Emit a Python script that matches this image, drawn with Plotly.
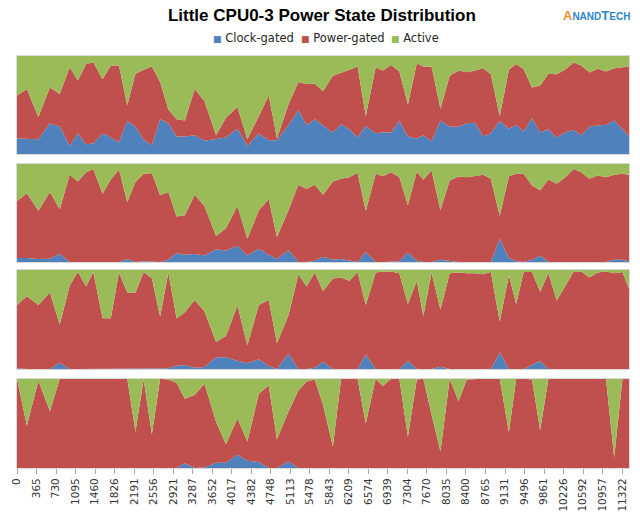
import plotly.graph_objects as go

# ---------------- data ----------------
TIMES = [0, 185, 400, 616, 800, 985, 1139, 1293, 1428, 1601, 1755, 1908, 2063, 2216, 2370,
         2524, 2678, 2832, 2986, 3140, 3325, 3509, 3725, 3909, 4125, 4310, 4525, 4710, 4864,
         5079, 5264, 5418, 5572, 5726, 5910, 6064, 6218, 6372, 6526, 6711, 6846, 7000, 7154,
         7314, 7480, 7603, 7757, 7923, 8096, 8262, 8416, 8570, 8724, 8866, 9032, 9204, 9340,
         9481, 9635, 9789, 9943, 10097, 10251, 10417, 10558, 10712, 10866, 11020, 11174,
         11328, 11451]

TICKS = [0, 365, 730, 1095, 1460, 1826, 2191, 2556, 2921, 3287, 3652, 4017, 4382, 4748,
         5113, 5478, 5843, 6209, 6574, 6939, 7304, 7670, 8035, 8400, 8765, 9131, 9496,
         9861, 10226, 10592, 10957, 11322]

SERIES = ["Clock-gated", "Power-gated", "Active"]

# CPU0
CLOCK_0 = [15.8, 15.8, 15.2, 31.3, 27.9, 8.4, 20.9, 10.1, 10.8, 20.9, 16.8, 11.8, 33.7, 27.9,
           14.5, 9.1, 35.4, 31.3, 17.8, 17.8, 19.2, 13.5, 15.2, 16.8, 25.9, 8.4, 20.9, 14.1,
           14.1, 29.3, 44.8, 29.3, 35.4, 29.3, 21.9, 30.3, 25.3, 16.8, 28.6, 21.2, 21.9, 21.9,
           33.7, 17.8, 15.8, 19.2, 13.1, 34.3, 27.9, 27.9, 31.3, 32.0, 17.8, 21.2, 33.7, 25.9,
           29.6, 22.9, 36.4, 21.9, 25.3, 16.8, 21.9, 24.6, 19.2, 27.9, 29.3, 29.6, 34.3, 25.3,
           17.8]
POWER_0 = [43.8, 50.5, 22.5, 36.7, 33.4, 80.2, 54.2, 81.8, 82.8, 55.5, 73.4, 78.4, 16.1, 53.9,
           71.4, 80.1, 38.0, 14.2, 17.6, 16.5, 47.1, 40.4, 4.0, 20.2, 22.2, 6.8, 17.8, 45.5,
           2.1, 21.2, 28.6, 42.1, 36.3, 34.7, 57.9, 52.2, 60.6, 72.4, 10.1, 67.4, 63.3, 69.0,
           50.5, 32.7, 76.8, 70.0, 76.1, 11.8, 51.9, 57.3, 52.2, 53.2, 69.7, 60.3, 5.0, 60.0,
           62.3, 63.6, 31.6, 48.1, 56.5, 64.7, 64.0, 68.7, 71.0, 55.3, 57.6, 54.6, 53.2, 63.3,
           71.4]
ACTIVE_0 = [40.4, 33.7, 62.3, 32.0, 38.7, 11.4, 24.9, 8.1, 6.4, 23.6, 9.8, 9.8, 50.2, 18.2,
            14.1, 10.8, 26.6, 54.5, 64.6, 65.7, 33.7, 46.1, 80.8, 63.0, 51.9, 84.8, 61.3, 40.4,
            83.8, 49.5, 26.6, 28.6, 28.3, 36.0, 20.2, 17.5, 14.1, 10.8, 61.3, 11.4, 14.8, 9.1,
            15.8, 49.5, 7.4, 10.8, 10.8, 53.9, 20.2, 14.8, 16.5, 14.8, 12.5, 18.5, 61.3, 14.1,
            8.1, 13.5, 32.0, 30.0, 18.2, 18.5, 14.1, 6.7, 9.8, 16.8, 13.1, 15.8, 12.5, 11.4,
            10.8]

# CPU1
CLOCK_1 = [4.0, 4.0, 3.0, 3.4, 8.4, 0, 0, 0, 0, 0.7, 0, 0, 3.0, 0, 0.7, 0, 0, 2.4, 9.1, 7.4,
           8.1, 6.7, 13.1, 11.4, 16.5, 6.7, 13.5, 7.4, 3.0, 12.1, 0, 0, 1.3, 5.4, 2.4, 3.0,
           1.7, 0, 10.1, 0, 0, 0, 0.7, 9.8, 1.3, 0, 0, 2.4, 1.3, 0, 0, 0, 0, 0, 23.6, 4.0,
           0.7, 0, 2.4, 6.4, 0, 0, 0, 0.7, 0, 0, 0, 0, 2.4, 2.4, 0.7]
POWER_1 = [58.3, 66.0, 49.2, 68.0, 45.5, 88.9, 82.2, 91.6, 94.9, 69.0, 84.2, 94.3, 58.3, 81.5,
           89.2, 90.6, 68.0, 69.0, 37.4, 40.4, 60.6, 50.2, 13.5, 22.9, 40.7, 16.9, 39.4, 56.6,
           22.6, 40.8, 78.8, 74.7, 77.5, 63.3, 79.8, 81.8, 84.8, 90.9, 41.8, 89.9, 87.5, 91.6,
           85.8, 48.1, 91.0, 83.8, 93.3, 50.5, 81.9, 87.2, 86.5, 87.5, 88.9, 84.8, 23.5, 83.5,
           89.2, 89.9, 75.7, 66.7, 84.2, 79.8, 85.9, 94.2, 91.6, 84.8, 88.2, 86.5, 86.5, 87.5,
           88.2]
ACTIVE_1 = [37.7, 30.0, 47.8, 28.6, 46.1, 11.1, 17.8, 8.4, 5.1, 30.3, 15.8, 5.7, 38.7, 18.5,
            10.1, 9.4, 32.0, 28.6, 53.5, 52.2, 31.3, 43.1, 73.4, 65.7, 42.8, 76.4, 47.1, 36.0,
            74.4, 47.1, 21.2, 25.3, 21.2, 31.3, 17.8, 15.2, 13.5, 9.1, 48.1, 10.1, 12.5, 8.4,
            13.5, 42.1, 7.7, 16.2, 6.7, 47.1, 16.8, 12.8, 13.5, 12.5, 11.1, 15.2, 52.9, 12.5,
            10.1, 10.1, 21.9, 26.9, 15.8, 20.2, 14.1, 5.1, 8.4, 15.2, 11.8, 13.5, 11.1, 10.1,
            11.1]

# CPU2
CLOCK_2 = [0.7, 0, 0, 0, 6.3, 0, 0, 0, 0, 0, 0, 0, 0, 0, 0, 0.7, 0, 0.7, 3.3, 4.0, 1.3, 2.0,
           11.7, 11.7, 8.3, 5.7, 9.7, 3.0, 0, 15.7, 0, 0, 1.3, 7.3, 0, 0, 0, 0, 14.7, 0, 0, 0,
           0, 8.0, 0, 0, 0, 2.3, 0, 0, 0, 0, 0, 0, 16.7, 0, 0, 0, 4.0, 8.0, 0, 0, 0, 0, 0, 0,
           0, 0, 0, 0, 0]
POWER_2 = [64.0, 73.3, 64.7, 77.3, 38.7, 84.0, 98.0, 83.3, 98.0, 51.3, 51.3, 97.3, 77.3, 77.3,
           98.0, 91.0, 53.0, 96.6, 48.0, 53.3, 68.4, 56.0, 15.6, 21.6, 55.7, 18.3, 55.0, 66.7,
           26.3, 38.3, 95.7, 83.3, 96.0, 71.4, 91.3, 92.3, 89.0, 98.0, 50.0, 97.3, 98.3, 98.3,
           96.7, 57.7, 89.0, 53.3, 97.3, 57.4, 96.7, 97.3, 96.7, 96.7, 95.7, 98.0, 31.3, 94.7,
           65.7, 98.0, 94.0, 70.0, 96.7, 69.0, 83.0, 98.3, 98.3, 92.3, 97.3, 98.3, 96.7, 98.0,
           81.3]
ACTIVE_2 = [35.3, 26.7, 35.3, 22.7, 55.0, 16.0, 2.0, 16.7, 2.0, 48.7, 48.7, 2.7, 22.7, 22.7,
            2.0, 8.3, 47.0, 2.7, 48.7, 42.7, 30.3, 42.0, 72.7, 66.7, 36.0, 76.0, 35.3, 30.3,
            73.7, 46.0, 4.3, 16.7, 2.7, 21.3, 8.7, 7.7, 11.0, 2.0, 35.3, 2.7, 1.7, 1.7, 3.3,
            34.3, 11.0, 46.7, 2.7, 40.3, 3.3, 2.7, 3.3, 3.3, 4.3, 2.0, 52.0, 5.3, 34.3, 2.0,
            2.0, 22.0, 3.3, 31.0, 17.0, 1.7, 1.7, 7.7, 2.7, 1.7, 3.3, 2.0, 18.7]

# CPU3
CLOCK_3 = [0, 0, 0, 0, 0.7, 0, 0, 0, 0, 0, 0, 0, 0, 0, 0, 0, 0, 0, 0, 5.2, 0, 0.7, 5.9, 5.9,
           14.8, 8.1, 6.7, 0, 0, 7.4, 0, 0, 0, 0, 0, 0, 0, 0, 0, 0, 0, 0, 0, 0, 0, 0, 0, 0, 0,
           0, 0, 0, 0, 0, 0, 0, 0, 0, 0, 0, 0, 0, 0, 0, 0, 0, 0, 0, 0, 0, 0]
POWER_3 = [100, 47.4, 98.1, 63.7, 99.3, 100, 100, 100, 100, 100, 100, 100, 100, 40.7, 99.3,
           37.8, 100, 99.3, 95.6, 72.6, 82.2, 93.7, 46.0, 20.8, 40.8, 21.5, 76.6, 92.6, 32.2,
           55.6, 87.0, 97.0, 99.3, 71.0, 24.1, 100, 100, 100, 50.0, 100, 91.9, 100, 100, 35.2,
           99.3, 100, 60.0, 18.5, 100, 74.8, 99.3, 100, 100, 100, 100, 40.0, 100, 100, 99.3,
           42.6, 100, 100, 100, 100, 100, 100, 100, 100, 11.9, 100, 100]
ACTIVE_3 = [0, 52.6, 1.9, 36.3, 0, 0, 0, 0, 0, 0, 0, 0, 0, 59.3, 0.7, 62.2, 0, 0.7, 4.4, 22.2,
            17.8, 5.6, 48.1, 73.3, 44.4, 70.4, 16.7, 7.4, 67.8, 37.0, 13.0, 3.0, 0.7, 29.0,
            75.9, 0, 0, 0, 50.0, 0, 8.1, 0, 0, 64.8, 0.7, 0, 40.0, 81.5, 0, 25.2, 0.7, 0, 0,
            0, 0, 60.0, 0, 0, 0.7, 57.4, 0, 0, 0, 0, 0, 0, 0, 0, 88.1, 0, 0]

PANELS = [(CLOCK_0, POWER_0, ACTIVE_0), (CLOCK_1, POWER_1, ACTIVE_1),
          (CLOCK_2, POWER_2, ACTIVE_2), (CLOCK_3, POWER_3, ACTIVE_3)]

# ---------------- style ----------------
COLORS = ["#4F81BD", "#C0504D", "#9BBB59"]
FONT = "DejaVu Sans"
W, H = 640, 522
ML, MR, MT, MB = 10, 10, 56, 50
PLOT_H = H - MT - MB


def py(px):  # pixel y (from top) -> paper y
    return (H - MB - px) / PLOT_H


def px_x(px):
    return (px - ML) / (W - ML - MR)


PANEL_PX = [(56, 155), (165, 264), (272, 372), (382, 472)]
X_MAX = 11451

fig = go.Figure()
for k, vals in enumerate(PANELS):
    xa = "x" if k == 0 else f"x{k + 1}"
    ya = "y" if k == 0 else f"y{k + 1}"
    for name, v, col in zip(SERIES, vals, COLORS):
        fig.add_trace(go.Scatter(
            x=TIMES, y=v, name=name, mode="lines", stackgroup=f"cpu{k}",
            line=dict(width=0, color=col), fillcolor=col,
            xaxis=xa, yaxis=ya, showlegend=False, hoverinfo="x+y+name"))

layout = dict(
    width=W, height=H,
    margin=dict(l=ML, r=MR, t=MT, b=MB),
    paper_bgcolor="white", plot_bgcolor="white",
    showlegend=False,
    font=dict(family=FONT, size=11, color="#404040"),
    title=dict(text="<b>Little CPU0-3 Power State Distribution</b>",
               font=dict(family="Liberation Sans", size=17, color="#000000"),
               x=0.503, xanchor="center", y=1 - 15 / H, yanchor="middle"),
)
for k, (top, bot) in enumerate(PANEL_PX):
    sfx = "" if k == 0 else str(k + 1)
    last = k == len(PANEL_PX) - 1
    layout[f"xaxis{sfx}"] = dict(
        domain=[0, 1], anchor=f"y{sfx}", range=[0, X_MAX],
        showgrid=False, zeroline=False,
        showline=True, linecolor="#D9D9D9", linewidth=1, mirror=True,
        tickmode="array", tickvals=TICKS, ticktext=[str(t) for t in TICKS],
        showticklabels=last, ticks="outside" if last else "",
        ticklen=5, tickcolor="#A6A6A6", tickangle=-90,
        tickfont=dict(family=FONT, size=10.5, color="#333333"),
    )
    layout[f"yaxis{sfx}"] = dict(
        domain=[py(bot), py(top)], anchor=f"x{sfx}", range=[0, 100],
        showgrid=False, zeroline=False, showticklabels=False,
        showline=True, linecolor="#D9D9D9", linewidth=1, mirror=True,
    )
fig.update_layout(**layout)

# legend row (as text)
legend_items = [(207, SERIES[0], COLORS[0]), (296, SERIES[1], COLORS[1]), (387, SERIES[2], COLORS[2])]
for xpx, name, col in legend_items:
    fig.add_annotation(
        text=f'<span style="color:{col};font-size:9px">■</span> {name}',
        x=px_x(xpx), y=py(38), xref="paper", yref="paper",
        xanchor="left", yanchor="middle", showarrow=False,
        font=dict(family=FONT, size=11.5, color="#262626"))

# logo
fig.add_annotation(
    text='<b><span style="color:#F0902A">A</span><span style="font-size:10px">NAND</span>'
         'T<span style="font-size:10px">ECH</span></b>',
    x=px_x(597), y=py(15), xref="paper", yref="paper",
    xanchor="center", yanchor="middle", showarrow=False,
    font=dict(family="Liberation Sans", size=13, color="#2E86C8"))

fig.write_html(
    "out.html",
    config={"displayModeBar": False},
    post_script="document.body.style.margin='0';document.body.style.overflow='hidden';")
